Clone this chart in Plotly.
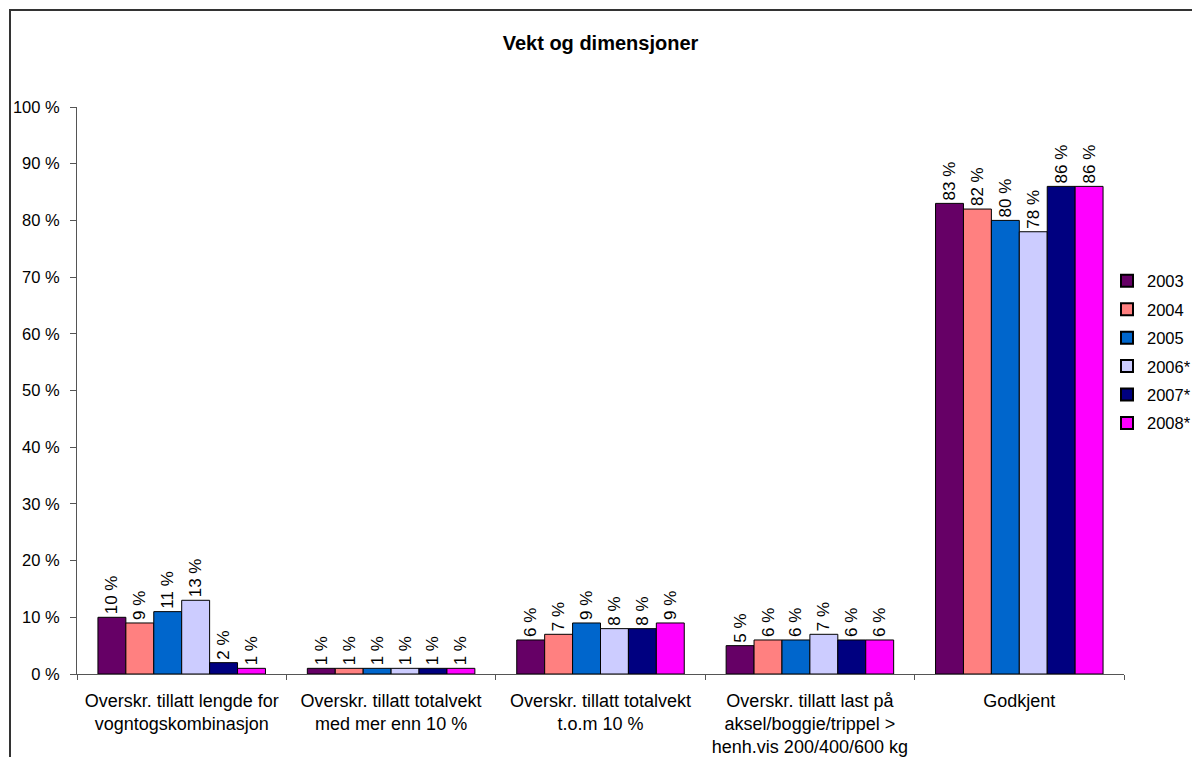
import plotly.graph_objects as go

categories = [
    "Overskr. tillatt lengde for<br>vogntogskombinasjon",
    "Overskr. tillatt totalvekt<br>med mer enn 10 %",
    "Overskr. tillatt totalvekt<br>t.o.m 10 %",
    "Overskr. tillatt last på<br>aksel/boggie/trippel ><br>henh.vis 200/400/600 kg",
    "Godkjent",
]
series_names = ["2003", "2004", "2005", "2006*", "2007*", "2008*"]
v2003 = [10, 1, 6, 5, 83]
v2004 = [9, 1, 7, 6, 82]
v2005 = [11, 1, 9, 6, 80]
v2006 = [13, 1, 8, 7, 78]
v2007 = [2, 1, 8, 6, 86]
v2008 = [1, 1, 9, 6, 86]
series_values = [v2003, v2004, v2005, v2006, v2007, v2008]
colors = ["#660066", "#FF8080", "#0066CC", "#CCCCFF", "#000080", "#FF00FF"]
ytick_vals = [0, 10, 20, 30, 40, 50, 60, 70, 80, 90, 100]
ytick_text = [f"{v} %" for v in ytick_vals]

FONT = "Arial, Liberation Sans, sans-serif"

fig = go.Figure()
for i, (name, vals, col) in enumerate(zip(series_names, series_values, colors)):
    fig.add_trace(go.Bar(
        name=name, x=categories, y=vals,
        marker=dict(color=col, line=dict(color="#000000", width=1)),
        text=[f"{v} %" for v in vals],
        textposition="outside", textangle=-90,
        constraintext="none",
        textfont=dict(family=FONT, size=17, color="#000"),
        cliponaxis=False,
        legendgroup=name,
    ))

W, H = 1192, 757
L, R, T, B = 77, 68, 107, 83
pw = W - L - R
ph = H - T - B

fig.update_layout(
    width=W, height=H,
    margin=dict(l=L, r=R, t=T, b=B, pad=0, autoexpand=False),
    paper_bgcolor="white", plot_bgcolor="white",
    barmode="group", bargap=0.2, bargroupgap=0,
    font=dict(family=FONT, size=17, color="#000"),
    title=dict(text="<b>Vekt og dimensjoner</b>", x=(L + pw / 2) / W, xanchor="center",
               y=1 - 43 / H, yanchor="middle", yref="container",
               font=dict(family=FONT, size=20, color="#000")),
    legend=dict(x=(1107 - L) / pw, xanchor="left", y=(674 - 352) / ph, yanchor="middle",
                font=dict(family=FONT, size=16.5), tracegroupgap=4, itemwidth=30,
                itemsizing="constant", bgcolor="rgba(0,0,0,0)"),
    showlegend=True,
)
fig.update_yaxes(range=[0, 100], tickvals=ytick_vals, ticktext=ytick_text,
                 showgrid=False, zeroline=False, showline=True, linecolor="#555",
                 linewidth=1, ticks="outside", ticklen=6, tickcolor="#555",
                 ticklabelstandoff=7, automargin=False,
                 tickfont=dict(family=FONT, size=16.5), fixedrange=True)
fig.update_xaxes(showgrid=False, showline=True, linecolor="#555", linewidth=1,
                 ticks="outside", ticklen=5, tickcolor="#555", tickson="boundaries",
                 ticklabelstandoff=10, automargin=False,
                 tickfont=dict(family=FONT, size=18))

# outer chart frame (top and left edges visible; right/bottom fall outside the page)
fig.add_shape(type="rect", xref="paper", yref="paper",
              x0=(10 - L) / pw, x1=(1205 - L) / pw,
              y0=(T + ph - 790) / ph, y1=(T + ph - 10) / ph,
              line=dict(color="#333", width=2), fillcolor="rgba(0,0,0,0)", layer="below")

fig.write_html("out.html")
